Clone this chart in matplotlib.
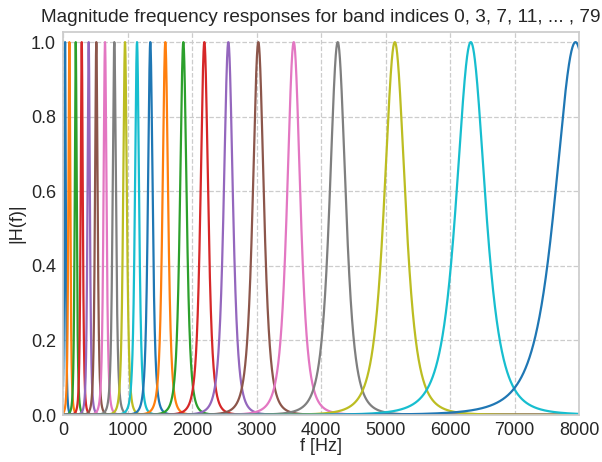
import numpy as np
import matplotlib
matplotlib.use("Agg")
import matplotlib.pyplot as plt

# Band indices shown and their centre frequencies / bandwidths (Hz)
band_indices = [0, 3, 7, 11, 15, 19, 23, 27, 31, 35, 39, 43, 47, 51, 55, 59, 63, 67, 71, 75, 79]
center_freqs = [32, 98, 197, 290, 398, 516, 651, 795, 961, 1147, 1353, 1586,
                1865, 2191, 2563, 3028, 3577, 4259, 5144, 6322, 7946]
bandwidths = [20, 27, 28, 30, 33, 37, 42, 47, 52, 58, 66, 78,
              92, 107, 128, 155, 185, 225, 293, 405, 574]
filter_order = 4

x_ticks = [0, 1000, 2000, 3000, 4000, 5000, 6000, 7000, 8000]
y_ticks = [0.0, 0.2, 0.4, 0.6, 0.8, 1.0]

plt.rcParams['font.family'] = ['Liberation Sans', 'DejaVu Sans']

fig = plt.figure(figsize=(6.02, 4.62), dpi=100)
ax = fig.add_axes([0.1047, 0.1017, 0.9618 - 0.1047, 0.9314 - 0.1017])

colors = plt.rcParams['axes.prop_cycle'].by_key()['color']
f = np.linspace(0, 8000, 8001)
for i, (fc, bw) in enumerate(zip(center_freqs, bandwidths)):
    mag = (1.0 + ((f - fc) / bw) ** 2) ** (-filter_order / 2)
    ax.plot(f, mag, color=colors[i % len(colors)], lw=1.6)

ax.set_xlim(0, 8000)
ax.set_ylim(0, 1.028)
ax.set_xticks(x_ticks)
ax.set_yticks(y_ticks)
ax.tick_params(axis='both', which='both', length=0, labelsize=13, pad=5,
               colors='#262626')
ax.grid(True, ls='--', color='#cccccc', lw=0.9)
ax.set_axisbelow(True)
for sp in ax.spines.values():
    sp.set_color('#cccccc')
    sp.set_linewidth(1.25)

ax.set_xlabel('f [Hz]', fontsize=13, color='#262626', labelpad=-1)
ax.set_ylabel('|H(f)|', fontsize=13, color='#262626', labelpad=4)
ax.set_title('Magnitude frequency responses for band indices 0, 3, 7, 11, ... , 79',
             fontsize=13.7, color='#262626', pad=7)

fig.savefig('out.png', dpi=100)
